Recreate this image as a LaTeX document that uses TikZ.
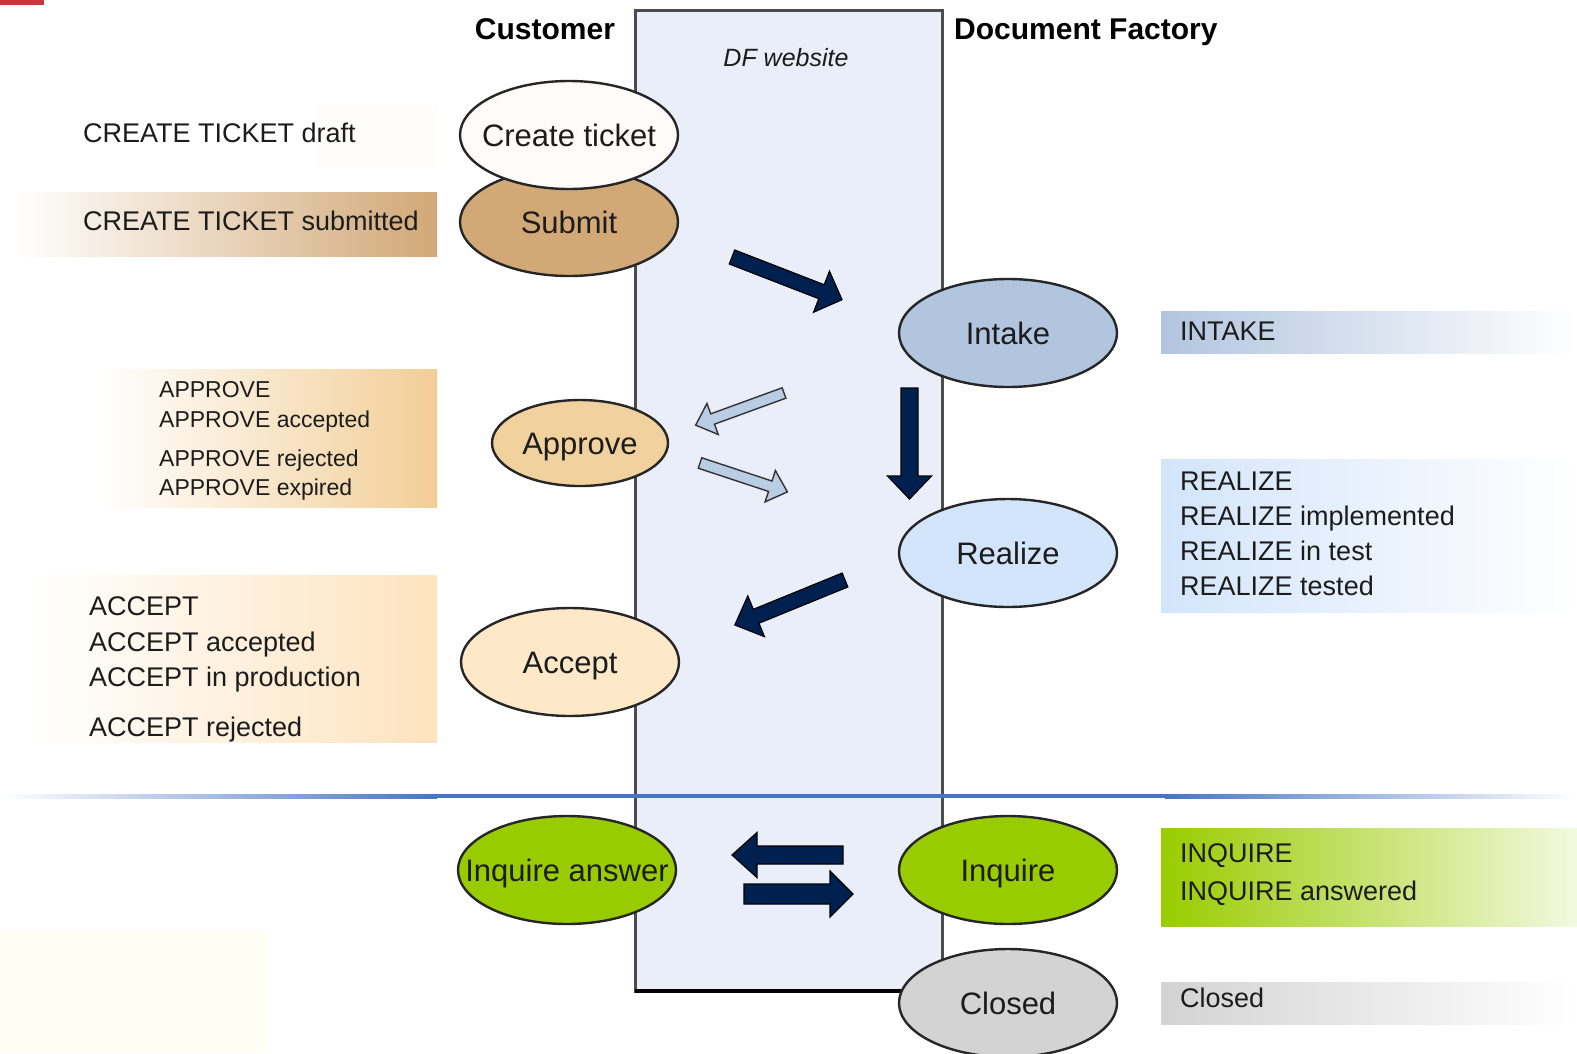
\documentclass[tikz,border=0pt]{standalone}
\usepackage{fontspec}
\setmainfont{Liberation Sans}
\usetikzlibrary{shapes.geometric}
\definecolor{txt}{HTML}{1C1C1C}
\definecolor{rectc}{HTML}{E9EEF8}
\definecolor{createc}{HTML}{FEFBFA}
\definecolor{submitc}{HTML}{D2A877}
\definecolor{approvec}{HTML}{F1D29E}
\definecolor{acceptc}{HTML}{FDE8C8}
\definecolor{intakec}{HTML}{B2C5DF}
\definecolor{realizec}{HTML}{D3E5FB}
\definecolor{inquirec}{HTML}{99CC00}
\definecolor{closedc}{HTML}{D3D3D3}
\definecolor{navy}{HTML}{002050}
\definecolor{lightarr}{HTML}{B9CDE5}
\definecolor{sepc}{HTML}{4775C4}
\definecolor{redmark}{HTML}{C8363C}
\newcommand{\blkarrow}[7][]{%
  \begin{scope}[shift={(#2)},rotate=#3]
    \draw[#1] (0,-#5) -- ({#4-#7},-#5) -- ({#4-#7},-#6) -- (#4,0) -- ({#4-#7},#6) -- ({#4-#7},#5) -- (0,#5) -- cycle;
  \end{scope}}
\begin{document}
\begin{tikzpicture}[x=1pt,y=-1pt,
  lbl/.style={anchor=west, inner sep=0pt, text height=19.4pt, text depth=0pt, font=\fontsize{27}{32}\selectfont, text=txt},
  slbl/.style={lbl, text height=16.6pt, font=\fontsize{23}{28}\selectfont},
  stext/.style={inner sep=0pt, text height=22.3pt, text depth=0pt, font=\fontsize{31}{36}\selectfont, text=txt},
  state/.style={ellipse, draw=black!85, line width=2.4pt, minimum width=218pt, minimum height=108pt, inner sep=0pt},
  hdr/.style={inner sep=0pt, text height=21.6pt, text depth=0pt, font=\bfseries\fontsize{30}{36}\selectfont, text=black},
  darkarr/.style={fill=navy, draw=black, line width=1.2pt},
  lightarrow/.style={fill=lightarr, draw=black!80, line width=1.4pt}]
\useasboundingbox (0,0) rectangle (1577,1053);
% red mark
\fill[redmark] (0,0) rectangle (44,5);
% left state boxes
\fill[createc!60] (316,105) rectangle (437,168);
\shade[left color=white, right color=submitc] (13,192) rectangle (437,256);
\shade[left color=white, right color=approvec!95!orange] (100,369) rectangle (437,507);
\shade[left color=white, right color=acceptc!95!orange] (28,575) rectangle (437,742);
\fill[yellow!4] (0,930) rectangle (268,1053);
% right state boxes
\shade[left color=intakec, right color=white] (1161,311) rectangle (1577,353);
\shade[left color=realizec, right color=white] (1161,459) rectangle (1577,612);
\shade[left color=inquirec, right color=inquirec!12] (1161,828) rectangle (1577,926);
\shade[left color=closedc, right color=white] (1161,982) rectangle (1577,1024);
% website column
\filldraw[fill=rectc, draw=black!70, line width=3pt] (635,10) rectangle (942,991);
\draw[black, line width=4pt] (635,991) -- (942,991);
% separator
\shade[left color=white, right color=sepc] (0,794) rectangle (437,798);
\fill[sepc] (437,794) rectangle (1165,798);
\shade[left color=sepc, right color=white] (1165,794) rectangle (1577,798);
% headers
\node[hdr] (hcust) at (545,29) {Customer};
\node[hdr, anchor=west] (hdf) at (954,29) {Document Factory};
\node[inner sep=0pt, text height=18pt, text depth=0pt, font=\itshape\fontsize{25}{30}\selectfont, text=txt] (dfw) at (786,57) {DF website};
% labels left
\node[lbl] (l1) at (83,133) {CREATE TICKET draft};
\node[lbl] (l2) at (83,221) {CREATE TICKET submitted};
\node[slbl] (l3) at (159,389) {APPROVE};
\node[slbl] (l4) at (159,419) {APPROVE accepted};
\node[slbl] (l5) at (159,458) {APPROVE rejected};
\node[slbl] (l6) at (159,487) {APPROVE expired};
\node[lbl] (l7) at (89,606) {ACCEPT};
\node[lbl] (l8) at (89,642) {ACCEPT accepted};
\node[lbl] (l9) at (89,677) {ACCEPT in production};
\node[lbl] (l10) at (89,727) {ACCEPT rejected};
% labels right
\node[lbl] (r1) at (1180,331) {INTAKE};
\node[lbl] (r2) at (1180,481) {REALIZE};
\node[lbl] (r3) at (1180,516) {REALIZE implemented};
\node[lbl] (r4) at (1180,551) {REALIZE in test};
\node[lbl] (r5) at (1180,586) {REALIZE tested};
\node[lbl] (r6) at (1180,853) {INQUIRE};
\node[lbl] (r7) at (1180,891) {INQUIRE answered};
\node[lbl] (r8) at (1180,998) {Closed};
% states
\node[state, fill=submitc, label={[stext]center:Submit}] (submit) at (569,222) {};
\node[state, fill=createc, label={[stext]center:Create ticket}] (create) at (569,135) {};
\node[state, fill=approvec, minimum width=176pt, minimum height=86pt, label={[stext]center:Approve}] (approve) at (580,443) {};
\node[state, fill=acceptc, label={[stext]center:Accept}] (accept) at (570,662) {};
\node[state, fill=intakec, label={[stext]center:Intake}] (intake) at (1008,333) {};
\node[state, fill=realizec, label={[stext]center:Realize}] (realize) at (1008,553) {};
\node[state, fill=inquirec, label={[stext]center:Inquire answer}] (inqans) at (567,870) {};
\node[state, fill=inquirec, label={[stext]center:Inquire}] (inquire) at (1008,870) {};
\node[state, fill=closedc, label={[stext]center:Closed}] (closed) at (1008,1003) {};
% block arrows
\blkarrow[darkarr]{732,257}{-21.2}{118}{7.5}{22}{22}
\blkarrow[darkarr]{909.5,388}{-90}{111}{8.5}{22}{23}
\blkarrow[darkarr]{845,580}{202.2}{119}{7.5}{22}{23}
\blkarrow[lightarrow]{784,393}{200}{94}{5.5}{16.5}{18}
\blkarrow[lightarrow]{700,463}{-18.3}{92}{5.5}{16.5}{18}
\blkarrow[darkarr]{843,855}{180}{111}{9}{22.5}{25}
\blkarrow[darkarr]{744,894}{0}{109}{10}{23}{23}
\end{tikzpicture}
\end{document}
